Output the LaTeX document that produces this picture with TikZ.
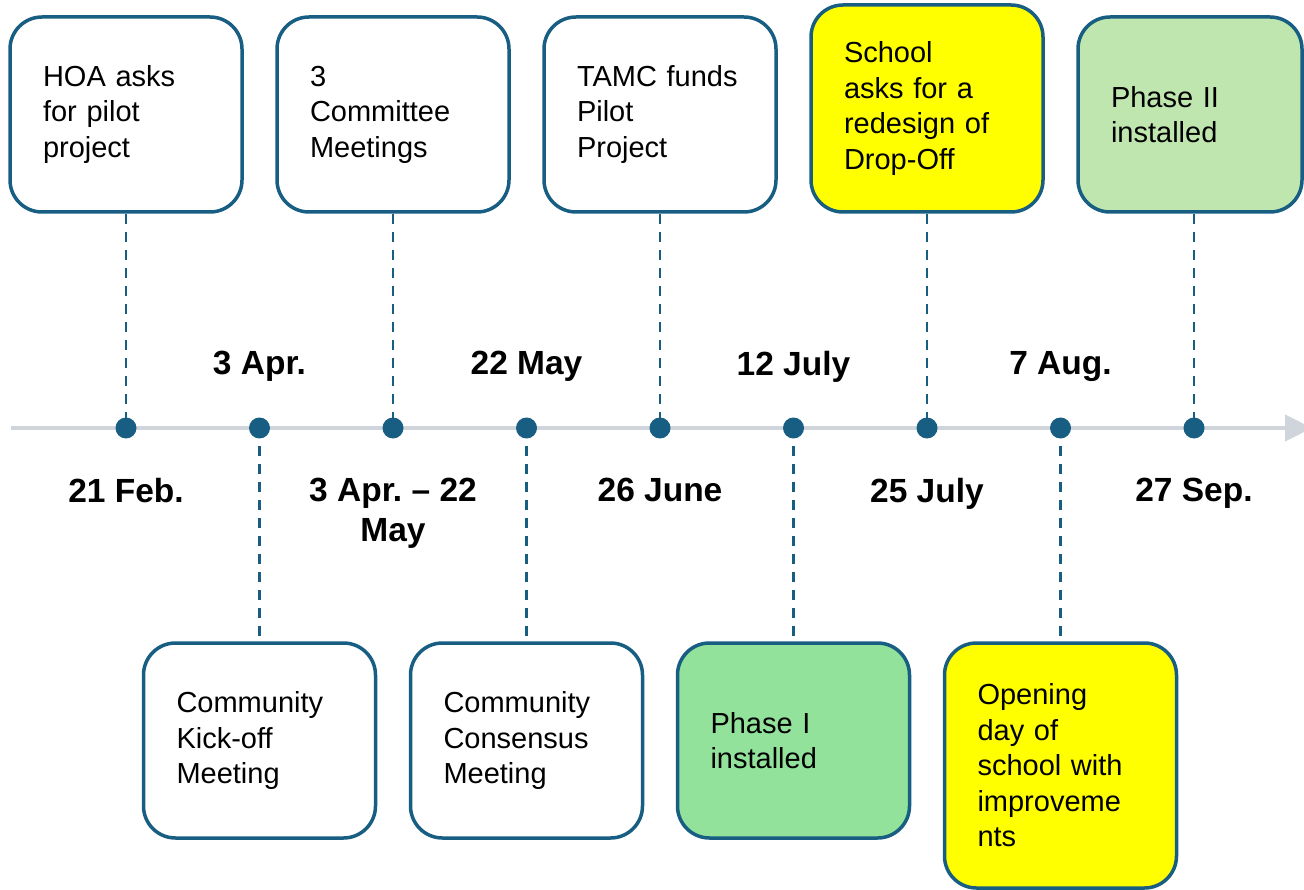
\documentclass[tikz,border=0pt]{standalone}
\usepackage{fontspec}
\setmainfont{Liberation Sans}
\usetikzlibrary{arrows.meta}
\frenchspacing
\definecolor{edge}{RGB}{24,94,130}
\definecolor{axisgray}{RGB}{208,213,219}
\definecolor{lime}{RGB}{190,230,174}
\definecolor{mint}{RGB}{146,226,155}
\definecolor{lemon}{RGB}{255,255,0}
\tikzset{
  event/.style={draw=edge,line width=3.5pt,rounded corners=32pt,fill=white,
    text width=166pt,inner xsep=33pt,inner ysep=0pt,minimum width=232pt,
    minimum height=195pt,align=left,font=\fontsize{29}{35.5}\selectfont},
  when/.style={font=\fontsize{33.5}{40}\selectfont\bfseries,align=center,inner sep=0pt},
  tick/.style={circle,fill=edge,inner sep=0pt,minimum size=21pt},
  stem/.style={edge,line width=2.5pt,dash pattern=on 10pt off 8pt}
}

\begin{document}
\begin{tikzpicture}[x=1pt,y=-1pt]
  \useasboundingbox (0,0) rectangle (1304,890);
  \clip (0,0) rectangle (1304,890);
   % the time axis
   \draw [axisgray,line width=4.5pt,-{Triangle[length=27pt,width=26pt]}] (11,428) -- (1312,428);
   % events above the axis
  \node[event] (HOA) at (126,114.5) {HOA asks\\for pilot\\project};
  \node[event] (Meetings) at (393,114.5) {3\\Committee\\Meetings};
  \node[event] (TAMC) at (660,114.5) {TAMC funds\\Pilot\\Project};
  \node[event,fill=lemon,minimum height=207pt] (School) at (927,108.5) {School\\asks for a\\redesign of\\Drop-Off};
  \node[event,fill=lime,minimum width=224pt,text width=158pt] (PhaseII) at (1190,114.5) {Phase II\\installed};
   % events below the axis
  \node[event] (Kickoff) at (259.5,740.5) {Community\\Kick-off\\Meeting};
  \node[event] (Consensus) at (526.5,740.5) {Community\\Consensus\\Meeting};
  \node[event,fill=mint] (PhaseI) at (793.5,740.5) {Phase I\\installed};
  \node[event,fill=lemon,minimum height=245pt] (Opening) at (1060.5,765.5) {Opening\\day of\\school with\\improveme\\nts};
  \foreach \i in {1,...,9}{% one dot per date
    \coordinate (d\i) at (126+133.5*\i-133.5,428);
    }
  \draw [stem] (HOA.south) -- (d1);
  \draw [stem] (d2) -- (Kickoff.north);
  \draw [stem] (Meetings.south) -- (d3);
  \draw [stem] (d4) -- (Consensus.north);
  \draw [stem] (TAMC.south) -- (d5);
  \draw [stem] (d6) -- (PhaseI.north);
  \draw [stem] (School.south) -- (d7);
  \draw [stem] (d8) -- (Opening.north);
  \draw [stem] (d9 |- PhaseII.south) -- (d9);
  \foreach \i in {1,...,9}{%
    \node[tick] (t\i) at (d\i) {};
    }
   % dates
  \node[when,anchor=north] (Feb) at (126,478) {21 Feb.};
  \node[when,anchor=north] (Apr) at (259.5,351) {3 Apr.};
  \node[when,anchor=north] (AprMay) at (393,478) {3 Apr. -- 22\\May};
  \node[when,anchor=north] (May) at (526.5,351) {22 May};
  \node[when,anchor=north] (June) at (660,478) {26 June};
  \node[when,anchor=north] (July) at (793.5,351) {12 July};
  \node[when,anchor=north] (LateJuly) at (927,478) {25 July};
  \node[when,anchor=north] (Aug) at (1060.5,351) {7 Aug.};
  \node[when,anchor=north] (Sep) at (1194,478) {27 Sep.};
 \end{tikzpicture}
\end{document}
